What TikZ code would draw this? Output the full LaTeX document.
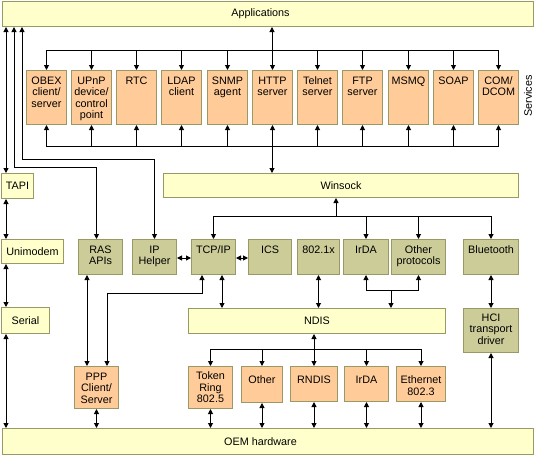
\documentclass[tikz,border=0pt]{standalone}
\usepackage{fontspec}
\setmainfont{Liberation Sans}
\usepackage{tikz}
\usetikzlibrary{arrows.meta}
\definecolor{appyellow}{HTML}{FFFFCC}
\definecolor{svcorange}{HTML}{FFCC99}
\definecolor{protoolive}{HTML}{CCCC99}
\definecolor{edgeolive}{HTML}{999966}
\tikzset{ebar/.style={draw=edgeolive,fill=appyellow,anchor=north west,inner sep=0pt}}
\tikzset{esvc/.style={draw=edgeolive,fill=svcorange,anchor=north west,inner sep=0pt}}
\tikzset{eproto/.style={draw=edgeolive,fill=protoolive,anchor=north west,inner sep=0pt}}
\tikzset{elink/.style={line width=1pt,>={Triangle[length=5pt,width=5pt]}}}
\newcommand{\boxtxt}[4][13.5pt]{\parbox[c][#3][t]{#2}{\centering\rule{0pt}{#1}#4}}

\begin{document}
\begin{tikzpicture}[x=1pt,y=-1pt,elink,font=\fontsize{10.8}{11.5}\selectfont]
            \useasboundingbox (0,0) rectangle (536,455);
            % draw the top and bottom bars
            \node[ebar,minimum width=531pt,minimum height=25pt] (apps) at (2,1) {\hspace*{-15pt}Applications};
            \node[ebar,minimum width=531pt,minimum height=26pt] (oem) at (2,428) {\hspace*{-15pt}OEM hardware};
            % draw the services
            \node[esvc] (obex) at (26,70) {\boxtxt{40pt}{54pt}{OBEX\\client/\\server}};
            \node[esvc] (upnp) at (71,70) {\boxtxt{40pt}{54pt}{UPnP\\device/\\control\\point}};
            \node[esvc] (rtc) at (116,70) {\boxtxt{40pt}{54pt}{RTC}};
            \node[esvc] (ldap) at (161,70) {\boxtxt{40pt}{54pt}{LDAP\\client}};
            \node[esvc] (snmp) at (207,70) {\boxtxt{40pt}{54pt}{SNMP\\agent}};
            \node[esvc] (http) at (252,70) {\boxtxt{40pt}{54pt}{HTTP\\server}};
            \node[esvc] (telnet) at (297,70) {\boxtxt{40pt}{54pt}{Telnet\\server}};
            \node[esvc] (ftp) at (342,70) {\boxtxt{40pt}{54pt}{FTP\\server}};
            \node[esvc] (msmq) at (388,70) {\boxtxt{40pt}{54pt}{MSMQ}};
            \node[esvc] (soap) at (433,70) {\boxtxt{40pt}{54pt}{SOAP}};
            \node[esvc] (dcom) at (478,70) {\boxtxt{40pt}{54pt}{COM/\\DCOM}};
            \node[rotate=90] (svclabel) at (528,96) {Services};
            % draw the middle layers
            \node[ebar,minimum width=355pt,minimum height=24pt] (wins) at (163,173) {Winsock};
            \node[ebar,minimum width=32pt,minimum height=25pt] (tapi) at (1,173) {TAPI};
            \node[ebar,minimum width=62pt,minimum height=24pt] (unimodem) at (1,239) {Unimodem};
            \node[ebar,minimum width=48pt,minimum height=26pt] (serial) at (1,307) {Serial};
            \node[eproto] (ras) at (78,239) {\boxtxt{44pt}{35pt}{RAS\\APIs}};
            \node[eproto] (iph) at (132,239) {\boxtxt{44pt}{35pt}{IP\\Helper}};
            \node[eproto] (tcp) at (191,239) {\boxtxt{44pt}{35pt}{TCP/IP}};
            \node[eproto] (ics) at (248,239) {\boxtxt{43pt}{35pt}{ICS}};
            \node[eproto] (dot1x) at (297,239) {\boxtxt{42pt}{35pt}{802.1x}};
            \node[eproto] (ird1) at (343,239) {\boxtxt{45pt}{35pt}{IrDA}};
            \node[eproto] (oth1) at (391,239) {\boxtxt{54pt}{35pt}{Other\\protocols}};
            \node[eproto] (bt) at (463,239) {\boxtxt{55pt}{35pt}{Bluetooth}};
            \node[ebar,minimum width=257pt,minimum height=25pt] (ndis) at (188,308) {NDIS};
            \node[eproto] (hci) at (463,308) {\boxtxt[12.5pt]{55pt}{44pt}{HCI\\transport\\driver}};
            % draw the drivers
            \node[esvc] (ppp) at (74,366) {\boxtxt{44pt}{42pt}{PPP\\Client/\\Server}};
            \node[esvc] (tok) at (188,366) {\boxtxt[13pt]{44pt}{42pt}{Token\\Ring\\802.5}};
            \node[esvc] (oth2) at (241,366) {\boxtxt[17pt]{41pt}{36pt}{Other}};
            \node[esvc] (rndis) at (290,366) {\boxtxt[17pt]{47pt}{35pt}{RNDIS}};
            \node[esvc] (ird2) at (344,366) {\boxtxt[17pt]{44pt}{35pt}{IrDA}};
            \node[esvc] (eth) at (396,366) {\boxtxt[17pt]{49pt}{35pt}{Ethernet\\802.3}};

            % services buses
            \coordinate (sbus) at (272,50);
            \coordinate (sbot) at (272,146);
            \draw[->] (sbus) -- (apps.south -| sbus);
            \draw[->] (sbus) -| (obex.north);
            \draw[->] (sbus) -| (upnp.north);
            \draw[->] (sbus) -| (rtc.north);
            \draw[->] (sbus) -| (ldap.north);
            \draw[->] (sbus) -| (snmp.north);
            \draw[->] (sbus) -| (http.north);
            \draw[->] (sbus) -| (telnet.north);
            \draw[->] (sbus) -| (ftp.north);
            \draw[->] (sbus) -| (msmq.north);
            \draw[->] (sbus) -| (soap.north);
            \draw[->] (sbus) -| (dcom.north);
            \draw[->] (sbot) -| (obex.south);
            \draw[->] (sbot) -| (upnp.south);
            \draw[->] (sbot) -| (rtc.south);
            \draw[->] (sbot) -| (ldap.south);
            \draw[->] (sbot) -| (snmp.south);
            \draw[->] (sbot) -| (http.south);
            \draw[->] (sbot) -| (telnet.south);
            \draw[->] (sbot) -| (ftp.south);
            \draw[->] (sbot) -| (msmq.south);
            \draw[->] (sbot) -| (soap.south);
            \draw[->] (sbot) -| (dcom.south);
            \draw[->] (sbot) -- (wins.north -| sbot);

            % left column
            \coordinate (lcol) at (6,0);
            \draw[<->] (apps.south -| lcol) -- (tapi.north -| lcol);
            \draw[<->] (tapi.south -| lcol) -- (unimodem.north -| lcol);
            \draw[<->] (unimodem.south -| lcol) -- (serial.north -| lcol);
            \draw[<->] (serial.south -| lcol) -- (oem.north -| lcol);
            \draw[<->] (apps.south -| 14,0) -- (14,167) -| ([xshift=-4pt]ras.north);
            \draw[<->] (apps.south -| 22,0) -- (22,159) -| (iph.north);

            % winsock bus
            \coordinate (wbus) at (336,216);
            \draw[->] (wbus) -- (wins.south -| wbus);
            \draw[->] (wbus) -| (tcp.north);
            \draw[->] (wbus) -| (ird1.north);
            \draw[->] (wbus) -| (oth1.north);
            \draw[->] (wbus) -| (bt.north);

            % protocols
            \draw[<->] (iph.east |- 0,258) -- (tcp.west |- 0,258);
            \draw[<->] (tcp.east |- 0,258) -- (ics.west |- 0,258);
            \draw[<->] (tcp.south -| 222,0) -- (ndis.north -| 222,0);
            \draw[<->] (tcp.south -| 202,0) -- (202,293) -| (ppp.north -| 107,0);
            \draw[<->] (ras.south -| 87,0) -- (ppp.north -| 87,0);
            \draw[<->] (dot1x.south) -- (ndis.north -| dot1x.south);
            \coordinate (ibus) at (391,290);
            \draw[->] (ibus) -- (ndis.north -| ibus);
            \draw[->] (ibus) -| (ird1.south);
            \draw[->] (ibus) -| (oth1.south);
            \draw[<->] (bt.south) -- (hci.north);

            % ndis bus
            \coordinate (nbus) at (314,349);
            \draw[->] (nbus) -- (ndis.south -| nbus);
            \draw[->] (nbus) -| (tok.north);
            \draw[->] (nbus) -| (oth2.north);
            \draw[->] (nbus) -| (rndis.north);
            \draw[->] (nbus) -| (ird2.north);
            \draw[->] (nbus) -| (eth.north);

            % down to the hardware
            \draw[<->] (ppp.south) -- (oem.north -| ppp.south);
            \draw[<->] (tok.south) -- (oem.north -| tok.south);
            \draw[<->] (oth2.south) -- (oem.north -| oth2.south);
            \draw[<->] (rndis.south) -- (oem.north -| rndis.south);
            \draw[<->] (ird2.south) -- (oem.north -| ird2.south);
            \draw[<->] (eth.south) -- (oem.north -| eth.south);
            \draw[<->] (hci.south) -- (oem.north -| hci.south);
        \end{tikzpicture}
\end{document}
